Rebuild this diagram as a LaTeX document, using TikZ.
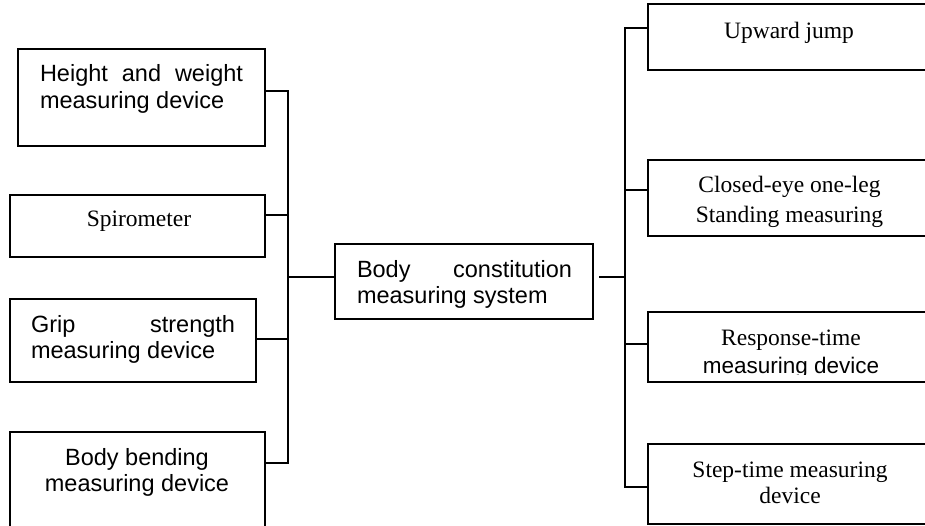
\documentclass[tikz,border=0pt]{standalone}
\usepackage{fontspec}
\setmainfont{Liberation Sans}
\newfontfamily\tnr{Liberation Serif}
\newcommand\twoline[4]{\vtop{\baselineskip=#1\relax\hbox to #2{#3}\hbox to #2{#4}}}
\begin{document}
\begin{tikzpicture}[x=1pt,y=-1pt,
  box/.style={draw,line width=1.5pt,inner sep=0pt,outer sep=0pt},
  lbl/.style={inner sep=0pt,outer sep=0pt,font=\fontsize{23.5}{27}\selectfont},
  serif/.style={lbl,font=\fontsize{23.5}{28}\selectfont\tnr},
  link/.style={line width=1.5pt}]
\clip (0,0) rectangle (925,526);
\path[use as bounding box] (0,0) rectangle (925,526);

% left boxes
\node[box,minimum width=247pt,minimum height=97pt] (L1) at (141.5,97.5) {};
\node[box,minimum width=255pt,minimum height=62pt] (L2) at (137.5,226) {};
\node[box,minimum width=246pt,minimum height=83pt] (L3) at (133,340.5) {};
\node[box,minimum width=255pt,minimum height=128pt] (L4) at (137.5,496) {};
% centre box
\node[box,minimum width=258pt,minimum height=75pt] (C) at (464,281.5) {};
% right boxes
\node[box,minimum width=287pt,minimum height=66pt] (R1) at (791.5,37) {};
\node[box,minimum width=287pt,minimum height=76pt] (R2) at (791.5,198) {};
\node[box,minimum width=287pt,minimum height=70pt] (R3) at (791.5,347) {};
\node[box,minimum width=287pt,minimum height=80pt] (R4) at (791.5,484) {};

% texts
\node[lbl,anchor=base west] (L1t) at (40,82)
  {\twoline{27pt}{203pt}{Height\hfill and\hfill weight}{measuring device\hfill}};
\node[serif,anchor=base] (L2t) at (139,227) {Spirometer};
\node[lbl,anchor=base west] (L3t) at (31,332)
  {\twoline{26pt}{204pt}{Grip\hfill strength}{measuring device\hfill}};
\node[lbl,anchor=base] (L4t) at (137,465)
  {\twoline{26pt}{230pt}{\hfil Body bending\hfil}{\hfil measuring device\hfil}};
\node[lbl,anchor=base west] (Ct) at (357,277)
  {\twoline{26pt}{215pt}{Body\hfill constitution}{measuring system\hfill}};
\node[serif,anchor=base] (R1t) at (789,39) {Upward jump};
\node[serif,anchor=base] (R2t) at (789.5,193)
  {\twoline{30pt}{250pt}{\hfil Closed-eye one-leg\hfil}{\hfil Standing measuring\hfil}};
\begin{scope}
\clip (648,312) rectangle (925,374.5);
\node[lbl,anchor=base] (R3t) at (791,345)
  {\twoline{28pt}{250pt}{\hfil{\tnr Response-time}\hfil}{\hfil\fontsize{22.5}{28}\selectfont measuring device\hfil}};
\end{scope}
\node[serif,anchor=base] (R4t) at (790,477)
  {\twoline{26pt}{250pt}{\hfil Step-time measuring\hfil}{\hfil device\hfil}};

% junctions
\coordinate (jL1) at (288,91);
\coordinate (jL2) at (288,215);
\coordinate (jL3) at (288,339);
\coordinate (jL4) at (288,463);
\coordinate (jC)  at (288,277);
\coordinate (jR)  at (625,277);
\coordinate (jR1) at (625,28);
\coordinate (jR2) at (625,190);
\coordinate (jR3) at (625,344);
\coordinate (jR4) at (625,487);

% connectors
\draw[link] (jL1 -| L1.east) -- (jL1) -- (jL4) -- (jL4 -| L4.east);
\draw[link] (jL2 -| L2.east) -- (jL2);
\draw[link] (jL3 -| L3.east) -- (jL3);
\draw[link] (jC) -- (jC -| C.west);
\draw[link] ([xshift=6pt]jR -| C.east) -- (jR);
\draw[link] (jR1 -| R1.west) -- (jR1) -- (jR4) -- (jR4 -| R4.west);
\draw[link] (jR2) -- (jR2 -| R2.west);
\draw[link] (jR3) -- (jR3 -| R3.west);
\end{tikzpicture}
\end{document}
